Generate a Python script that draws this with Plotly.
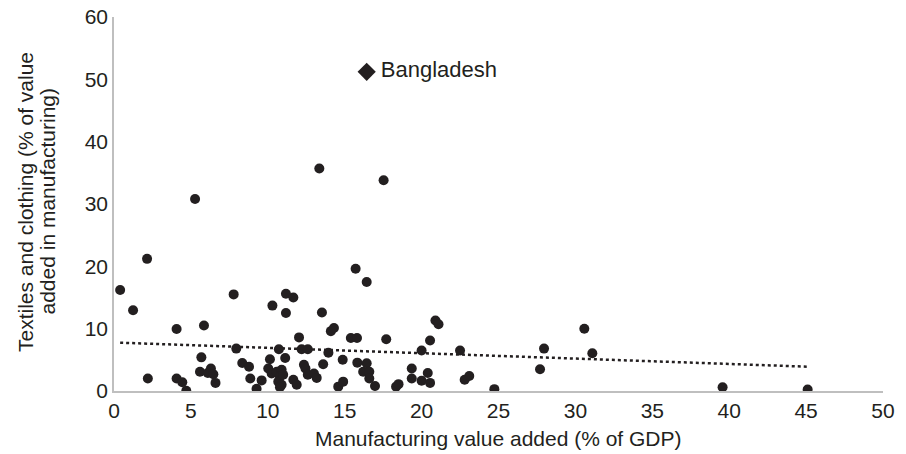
import plotly.graph_objects as go

# Manufacturing value added (% of GDP) vs textiles & clothing share (% of MVA)
mva = [0.4, 1.24, 2.15, 2.2, 4.07, 4.07, 4.44, 4.7, 5.27, 5.85,
       5.68, 5.59, 6.3, 6.1, 6.46, 6.6, 7.78, 7.95, 8.34, 8.78,
       8.86, 9.27, 9.6, 10.3, 10.14, 10.72, 11.13, 10.03, 10.25, 10.58,
       10.79, 10.68, 10.9, 10.79, 10.9, 11.0, 11.18, 11.66, 11.18, 12.03,
       11.66, 11.88, 12.2, 12.6, 12.35, 12.45, 12.6, 13.0, 13.18, 13.35,
       13.52, 14.1, 14.3, 13.94, 13.6, 14.87, 14.58, 14.9, 15.4, 15.8,
       15.71, 15.82, 16.43, 16.2, 16.6, 16.6, 16.97, 16.43, 17.53, 17.7,
       18.34, 18.5, 19.36, 19.36, 20.0, 20.4, 20.55, 20.0, 20.55, 20.9,
       21.1, 22.5, 22.8, 23.1, 24.73, 27.7, 27.96, 30.58, 31.1, 39.57,
       45.1]
textiles = [16.2, 12.95, 21.2, 2.0, 9.95, 2.0, 1.4, 0.05, 30.8, 10.5,
            5.4, 3.1, 3.6, 2.9, 2.7, 1.3, 15.5, 6.8, 4.5, 3.9,
            2.0, 0.35, 1.7, 13.7, 5.1, 6.7, 5.3, 3.6, 2.8, 3.1,
            2.3, 1.5, 1.0, 0.6, 3.4, 2.6, 15.6, 15.0, 12.5, 8.6,
            1.8, 1.0, 6.7, 6.7, 4.2, 3.6, 2.6, 2.8, 2.1, 35.7,
            12.6, 9.6, 10.1, 6.15, 4.3, 5.0, 0.7, 1.5, 8.5, 8.5,
            19.6, 4.55, 4.45, 3.1, 3.1, 2.0, 0.8, 17.5, 33.8, 8.3,
            0.7, 1.1, 3.6, 2.0, 1.65, 2.9, 1.3, 6.5, 8.1, 11.3,
            10.7, 6.5, 1.8, 2.4, 0.3, 3.5, 6.8, 10.0, 6.05, 0.6,
            0.25]

highlight_name = ["Bangladesh"]
highlight_mva = [16.43]
highlight_textiles = [51.2]

trend_x = [0.4, 45.1]
trend_y = [7.75, 3.9]

x_ticks = [0, 5, 10, 15, 20, 25, 30, 35, 40, 45, 50]
y_ticks = [0, 10, 20, 30, 40, 50, 60]

x_title = "Manufacturing value added (% of GDP)"
y_title_lines = ["Textiles and clothing (% of value", "added in manufacturing)"]

ink = "#231f20"
font_family = "Liberation Sans, Arial, sans-serif"
fs = 21

fig = go.Figure()
fig.add_trace(go.Scatter(
    x=trend_x, y=trend_y, mode="lines",
    line=dict(color=ink, width=2.5, dash="3px,3px"),
    hoverinfo="skip", showlegend=False))
fig.add_trace(go.Scatter(
    x=mva, y=textiles, mode="markers",
    marker=dict(color=ink, size=10, line=dict(width=0)),
    showlegend=False))
fig.add_trace(go.Scatter(
    x=highlight_mva, y=highlight_textiles, mode="markers+text",
    marker=dict(color=ink, size=14, symbol="diamond", line=dict(width=0)),
    text=["\u2009" + n for n in highlight_name], textposition="middle right",
    textfont=dict(size=22, color=ink, family=font_family),
    showlegend=False))

axis_line = "#bfbfbf"
fig.update_layout(
    width=906, height=454,
    margin=dict(l=114, r=23, t=17, b=63),
    paper_bgcolor="white", plot_bgcolor="white",
    font=dict(family=font_family, size=fs, color=ink),
    xaxis=dict(range=[0, 50], tickvals=x_ticks, showgrid=False, zeroline=False,
               showline=True, linecolor=axis_line, linewidth=1.5,
               ticks="", tickfont=dict(size=fs), automargin=False,
               ticklabeloverflow="allow"),
    yaxis=dict(range=[0, 60], tickvals=y_ticks, showgrid=False, zeroline=False,
               showline=True, linecolor=axis_line, linewidth=1.5,
               ticks="", tickfont=dict(size=fs), automargin=False,
               ticklabeloverflow="allow"),
)

fig.add_annotation(text=x_title, xref="paper", yref="paper",
                   x=0.5, y=-47 / 374, xanchor="center", yanchor="middle",
                   showarrow=False, font=dict(size=fs, color=ink))
for i, line in enumerate(y_title_lines):
    px = 25 + 21.5 * i
    fig.add_annotation(text=line, xref="paper", yref="paper",
                       x=(px - 114) / 769, y=(391 - 202) / 374,
                       xanchor="center", yanchor="middle", textangle=-90,
                       showarrow=False, font=dict(size=fs, color=ink))

# remove the default 8px page margin so the 906x454 figure fills the window
fig.write_html("out.html",
               config={"displayModeBar": False},
               post_script="document.body.style.margin='0';document.body.style.overflow='hidden';")
